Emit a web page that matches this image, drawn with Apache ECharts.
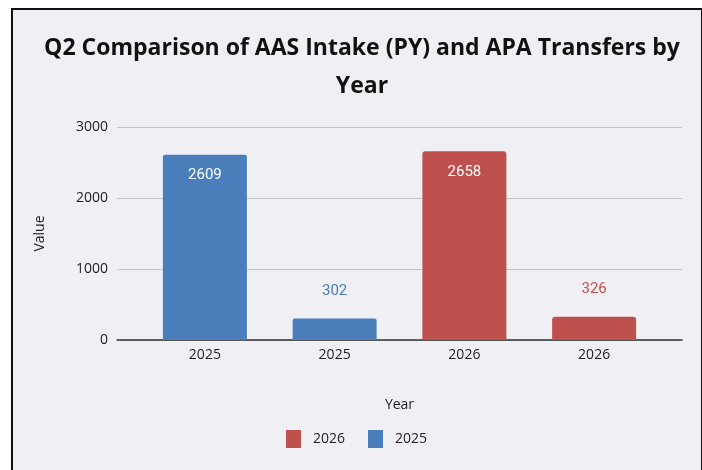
<!DOCTYPE html>
<html>
<head>
<meta charset="utf-8">
<script src="https://cdn.jsdelivr.net/npm/echarts@6/dist/echarts.min.js"></script>
<style>
  html, body { margin: 0; padding: 0; background: #ffffff; }
  #frame {
    position: absolute; left: 11px; top: 8px; width: 688px; height: 470px;
    border: 2px solid #111; border-bottom: none; background: #f0eff4;
  }
  #chart { position: absolute; left: 0; top: 0; width: 702px; height: 470px; }
</style>
</head>
<body>
<div id="frame"></div>
<div id="chart"></div>
<script>
// categories and values
var years = ['2025', '2025', '2026', '2026'];
var values2025 = [2609, 302, null, null];
var values2026 = [null, null, 2658, 326];
var yTicks = [0, 1000, 2000, 3000];

var blue = '#4a7ebb';
var red = '#be504d';
var txt = '#1e1e1e';

function barLabel(color) {
    return {
        show: true,
        fontFamily: 'Roboto',
        fontSize: 15,
        formatter: function (p) {
            return p.value == null ? '' : p.value;
        },
        // short bars: value above, in the series colour
        position: 'top',
        distance: 20,
        color: color
    };
}

function barData(vals) {
    return vals.map(function (v) {
        if (v == null) return null;
        if (v > 1000) {
            // tall bars carry the value inside, in white
            return { value: v, label: { position: 'insideTop', distance: 13, color: '#ffffff' } };
        }
        return v;
    });
}

var chart = echarts.init(document.getElementById('chart'));
chart.setOption({
    backgroundColor: 'transparent',
    animation: false,
    title: {
        text: 'Q2 Comparison of AAS Intake (PY) and APA Transfers by\nYear',
        left: 357,
        top: 24,
        textAlign: 'center',
        textStyle: {
            fontFamily: 'Open Sans',
            fontWeight: 'bold',
            fontSize: 23,
            lineHeight: 38,
            color: '#111111'
        }
    },
    legend: {
        data: ['2026', '2025'],
        left: 281,
        top: 425,
        itemWidth: 15,
        itemHeight: 18,
        itemGap: 23,
        icon: 'rect',
        textStyle: { fontFamily: 'Open Sans', fontSize: 14, color: txt, padding: [0, 0, 0, 7] }
    },
    grid: [
        { left: 117, right: 20, top: 127, bottom: 130 },
        { left: 140, right: 43, top: 127, bottom: 130 }
    ],
    xAxis: [
        {
            gridIndex: 0,
            type: 'value',
            min: 0,
            max: 1,
            axisLine: { show: true, lineStyle: { color: '#333333', width: 1.5 } },
            axisTick: { show: false },
            axisLabel: { show: false },
            splitLine: { show: false },
            name: 'Year',
            nameLocation: 'middle',
            nameGap: 58,
            nameTextStyle: { fontFamily: 'Open Sans', fontSize: 14, color: txt }
        },
        {
            gridIndex: 1,
            type: 'category',
            data: years,
            axisLine: { show: false },
            axisTick: { show: false },
            axisLabel: { fontFamily: 'Open Sans', fontSize: 14, color: txt, margin: 8 }
        }
    ],
    yAxis: [
        {
            gridIndex: 0,
            type: 'value',
            min: yTicks[0],
            max: yTicks[yTicks.length - 1],
            interval: 1000,
            axisLine: { show: false },
            axisTick: { show: false },
            axisLabel: {
                fontFamily: 'Open Sans', fontSize: 14, color: txt, margin: 9,
                formatter: function (v) { return String(v); }
            },
            splitLine: { lineStyle: { color: '#c4c4c8', width: 1.2 } },
            name: 'Value',
            nameLocation: 'middle',
            nameGap: 70,
            nameRotate: 90,
            nameTextStyle: { fontFamily: 'Open Sans', fontSize: 14, color: txt }
        },
        {
            gridIndex: 1,
            type: 'value',
            min: yTicks[0],
            max: yTicks[yTicks.length - 1],
            show: false
        }
    ],
    series: [
        {
            name: '2026',
            type: 'bar',
            xAxisIndex: 1,
            yAxisIndex: 1,
            stack: 'yr',
            barWidth: 84,
            itemStyle: { color: red, borderRadius: [3, 3, 0, 0] },
            label: barLabel(red),
            data: barData(values2026)
        },
        {
            name: '2025',
            type: 'bar',
            xAxisIndex: 1,
            yAxisIndex: 1,
            stack: 'yr',
            barWidth: 84,
            itemStyle: { color: blue, borderRadius: [2, 2, 0, 0] },
            label: barLabel(blue),
            data: barData(values2025)
        }
    ]
});
</script>
</body>
</html>
